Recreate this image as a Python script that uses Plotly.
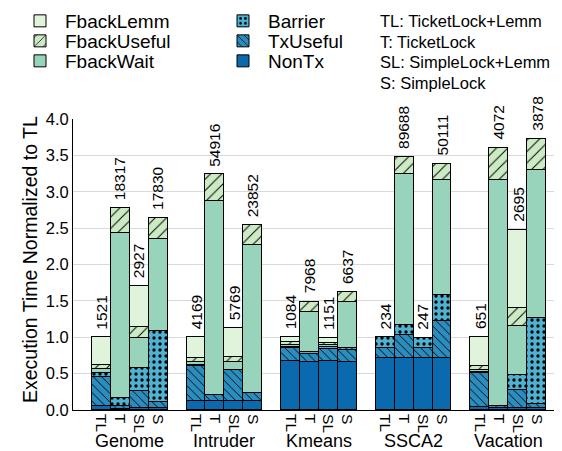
import plotly.graph_objects as go

# ---------------- data ----------------
groups = ["Genome", "Intruder", "Kmeans", "SSCA2", "Vacation"]
variants = ["TL", "T", "SL", "S"]

NonTx = [0.05, 0.02, 0.025, 0.03, 0.13, 0.13, 0.13, 0.13, 0.68, 0.655, 0.67, 0.665,
         0.72, 0.72, 0.72, 0.72, 0.04, 0.03, 0.025, 0.025]
TxUseful = [0.41, 0.035, 0.24, 0.085, 0.48, 0.075, 0.42, 0.10, 0.17, 0.11, 0.175, 0.16,
            0.138, 0.311, 0.138, 0.504, 0.47, 0.03, 0.25, 0.055]
Barrier = [0.055, 0.105, 0.31, 0.976, 0.01, 0.0, 0.0, 0.0, 0.02, 0.035, 0.02, 0.025,
           0.142, 0.137, 0.137, 0.357, 0.01, 0.0, 0.2, 1.19]
FbackWait = [0.05, 2.277, 0.41, 1.255, 0.04, 2.667, 0.106, 2.038, 0.03, 0.55, 0.03, 0.64,
             0.0, 2.076, 0.0, 1.581, 0.03, 3.10, 0.673, 2.03]
FbackUseful = [0.06, 0.334, 0.15, 0.29, 0.05, 0.367, 0.078, 0.275, 0.03, 0.14, 0.03, 0.137,
               0.0, 0.229, 0.0, 0.22, 0.05, 0.445, 0.25, 0.425]
FbackLemm = [0.375, 0.0, 0.57, 0.0, 0.29, 0.0, 0.389, 0.0, 0.07, 0.0, 0.065, 0.0,
             0.0, 0.0, 0.0, 0.0, 0.40, 0.0, 1.076, 0.0]
counts = ["1521", "18317", "2927", "17830", "4169", "54916", "5769", "23852",
          "1084", "7968", "1151", "6637", "234", "89688", "247", "50111",
          "651", "4072", "2695", "3878"]
y_ticks = [0.0, 0.5, 1.0, 1.5, 2.0, 2.5, 3.0, 3.5, 4.0]
abbrev_lines = ["TL: TicketLock+Lemm", "T: TicketLock", "SL: SimpleLock+Lemm", "S: SimpleLock"]

# ---------------- layout constants ----------------
FONT = "Liberation Sans, Arial, Helvetica, sans-serif"
W, H = 562, 451
ML, MR, MT, MB = 65, 5, 111, 49
XMIN, XMAX = -0.5, 25.5


def px_to_paper_x(px):
    return (px - ML) / (W - ML - MR)


def px_to_paper_y(py):
    return (H - MB - py) / (H - MT - MB)


# bar positions: each group has 4 bars followed by a one-slot gap
xpos = [g * 5 + b + 1 for g in range(len(groups)) for b in range(len(variants))]
xlabels = [v for g in groups for v in variants]
group_x = [g * 5 + 2.5 for g in range(len(groups))]

# name, values, colour, pattern, legend id, legend column x (px), legend row y (px)
series = [
    ("NonTx", NonTx, "#0b6aad", "", "legend7", 210, 53),
    ("TxUseful", TxUseful, "#2b8cbe", "\\", "legend6", 210, 33),
    ("Barrier", Barrier, "#4eb3d3", ".", "legend5", 210, 13),
    ("FbackWait", FbackWait, "#97d4bb", "", "legend4", 7, 53),
    ("FbackUseful", FbackUseful, "#ccebc5", "/", "legend3", 7, 33),
    ("FbackLemm", FbackLemm, "#e0f3db", "", "legend2", 7, 13),
]

fig = go.Figure()
legend_layout = {}
for name, vals, color, shape, leg, lx, ly in series:
    pattern = dict(shape=shape, fgcolor="black", bgcolor=color, fillmode="replace")
    if shape == ".":
        pattern.update(size=6, solidity=0.25)
    elif shape == "\\":
        pattern.update(size=6, solidity=0.15)
    elif shape == "/":
        pattern.update(size=8, solidity=0.12)
    fig.add_trace(go.Bar(
        x=xpos, y=vals, name=name, width=1.0, showlegend=True,
        marker=dict(color=color, line=dict(color="black", width=1), pattern=pattern),
        legend=leg,
    ))
    legend_layout[leg] = dict(x=lx / W, xref="container", y=1 - ly / H, yref="container",
                              xanchor="left", yanchor="middle",
                              font=dict(size=19, family=FONT, color="black"),
                              bgcolor="rgba(0,0,0,0)", itemwidth=40)

totals = [sum(s[1][i] for s in series) for i in range(len(xpos))]
for x, t, c in zip(xpos, totals, counts):
    fig.add_annotation(x=x, y=t, xref="x", yref="y", text=c, textangle=-90,
                       showarrow=False, yanchor="bottom", xanchor="center", yshift=6,
                       font=dict(size=15.5, color="black", family=FONT))

for gx, name in zip(group_x, groups):
    fig.add_annotation(x=gx, y=px_to_paper_y(433), xref="x", yref="paper",
                       text=name, showarrow=False,
                       font=dict(size=18, color="black", family=FONT),
                       xanchor="center", yanchor="middle")

# abbreviations block (one annotation per line for exact line spacing)
for i, line in enumerate(abbrev_lines):
    fig.add_annotation(x=px_to_paper_x(370), y=px_to_paper_y(13 + 20.7 * i),
                       xref="paper", yref="paper", text=line, align="left",
                       showarrow=False, xanchor="left", yanchor="middle",
                       font=dict(size=16.5, color="black", family=FONT))

# y-axis title
fig.add_annotation(x=px_to_paper_x(22.5), y=px_to_paper_y(251.5), xref="paper",
                   yref="paper", text="Execution Time Normalized to TL", textangle=-90,
                   showarrow=False, xanchor="center", yanchor="middle",
                   font=dict(size=19.5, color="black", family=FONT))

fig.update_layout(
    width=W, height=H,
    margin=dict(l=ML, r=MR, t=MT, b=MB, autoexpand=False),
    barmode="stack", bargap=0, showlegend=True,
    plot_bgcolor="white", paper_bgcolor="white",
    font=dict(family=FONT, color="black", size=16),
    xaxis=dict(range=[XMIN, XMAX], tickmode="array", tickvals=xpos, ticktext=xlabels,
               tickangle=90, showgrid=False, zeroline=False, showline=True, automargin=False,
               linecolor="black", linewidth=1, ticks="", tickfont=dict(size=15.5, family=FONT)),
    yaxis=dict(range=[0, 4], tickmode="array", tickvals=y_ticks, automargin=False,
               ticktext=[f"{v:.1f}" for v in y_ticks],
               showgrid=True, gridcolor="#d9d9d9", gridwidth=1, zeroline=False,
               showline=True, linecolor="black", linewidth=1, ticks="",
               tickfont=dict(size=16.5, family=FONT)),
    **legend_layout,
)

fig.write_html("out.html")
